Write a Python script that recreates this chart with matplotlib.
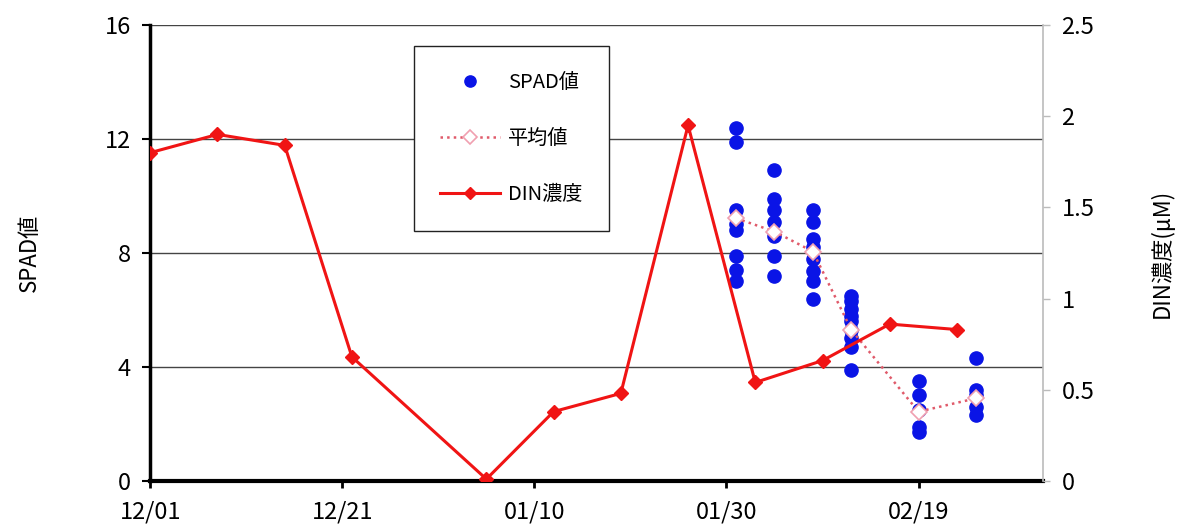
import matplotlib
matplotlib.use("Agg")
import matplotlib.pyplot as plt
import matplotlib.dates as mdates
import pandas as pd

plt.rcParams['font.family'] = ['Noto Sans CJK JP', 'DejaVu Sans']

# SPAD readings per sampling day
spad_dates = ['2009-01-31', '2009-02-04', '2009-02-08', '2009-02-12', '2009-02-19', '2009-02-25']
spad_values = [
    [12.4, 11.9, 9.5, 9.0, 8.8, 7.9, 7.4, 7.0],
    [10.9, 9.9, 9.5, 9.1, 8.6, 7.9, 7.2],
    [9.5, 9.1, 8.5, 8.2, 7.8, 7.35, 7.0, 6.4],
    [6.5, 6.3, 6.05, 5.8, 5.6, 5.3, 5.0, 4.7, 3.9],
    [3.5, 3.0, 2.5, 1.9, 1.7],
    [4.3, 3.2, 3.0, 2.6, 2.3],
]
spad_mean = [9.22, 8.75, 8.05, 5.30, 2.43, 2.90]

# DIN concentration (uM)
din_dates = ['2008-12-01', '2008-12-08', '2008-12-15', '2008-12-22', '2009-01-05', '2009-01-12',
             '2009-01-19', '2009-01-26', '2009-02-02', '2009-02-09', '2009-02-16', '2009-02-23']
din_values = [1.80, 1.90, 1.84, 0.68, 0.01, 0.38, 0.48, 1.95, 0.54, 0.66, 0.86, 0.83]

tick_dates = ['2008-12-01', '2008-12-21', '2009-01-10', '2009-01-30', '2009-02-19']

sd = pd.to_datetime(spad_dates)
dd = pd.to_datetime(din_dates)

fig = plt.figure(figsize=(11.83, 5.32), dpi=100)
ax = fig.add_axes([0.127, 0.096, 0.755, 0.857])
ax2 = ax.twinx()

# scatter of individual readings
xs, ys = [], []
for d, vals in zip(sd, spad_values):
    xs += [d] * len(vals)
    ys += vals
h1, = ax.plot(xs, ys, 'o', color='#0a14e6', ms=9.5, mec='#0a14e6', zorder=3, label='SPAD値')
h2, = ax.plot(sd, spad_mean, ':', color='#e05a6a', lw=1.8, marker='D', ms=8.5,
              mfc='white', mec='#f0a0b0', mew=1.2, zorder=4, label='平均値')
h3, = ax2.plot(dd, din_values, '-', color='#f01414', lw=2.2, marker='D', ms=7,
               mfc='#f01414', mec='#f01414', label='DIN濃度')

ax.set_ylim(0, 16)
ax.set_yticks([0, 4, 8, 12, 16])
ax2.set_ylim(0, 2.5)
ax2.set_yticks([0, 0.5, 1, 1.5, 2, 2.5])
ax2.set_yticklabels(['0', '0.5', '1', '1.5', '2', '2.5'])

ax.set_xlim(pd.Timestamp('2008-12-01'), pd.Timestamp('2009-03-04'))
ax.set_xticks(pd.to_datetime(tick_dates))
ax.xaxis.set_major_formatter(mdates.DateFormatter('%m/%d'))

ax.grid(axis='y', color='#444444', lw=1.0)
ax.set_axisbelow(True)

for a in (ax, ax2):
    a.spines['top'].set_visible(False)
ax.spines['left'].set_linewidth(2.5)
ax.spines['bottom'].set_linewidth(3)
ax.spines['right'].set_visible(False)
ax2.spines['left'].set_visible(False)
ax2.spines['bottom'].set_visible(False)
ax2.spines['right'].set_color('#bbbbbb')
ax2.spines['right'].set_linewidth(1.2)

ax.tick_params(axis='y', labelsize=17, length=6, width=1.5, direction='out', pad=8)
ax.tick_params(axis='x', labelsize=17, length=5, width=2, direction='out', pad=9)
ax2.tick_params(axis='y', labelsize=17, length=5, width=1, color='#bbbbbb', pad=8)

ax.set_ylabel('SPAD値', fontsize=16, labelpad=46)
ax2.set_ylabel('DIN濃度(μM)', fontsize=16, labelpad=40)

leg = ax2.legend(handles=[h1, h2, h3], loc='upper left', bbox_to_anchor=(0.295, 0.955),
                 fontsize=14.5, frameon=True, fancybox=False, framealpha=1, edgecolor='#222222',
                 labelspacing=1.75, borderpad=1.3, handlelength=3.0, handletextpad=0.4,
                 borderaxespad=0, markerscale=0.85)
leg.get_frame().set_linewidth(1.0)

fig.savefig('out.png', dpi=100)
